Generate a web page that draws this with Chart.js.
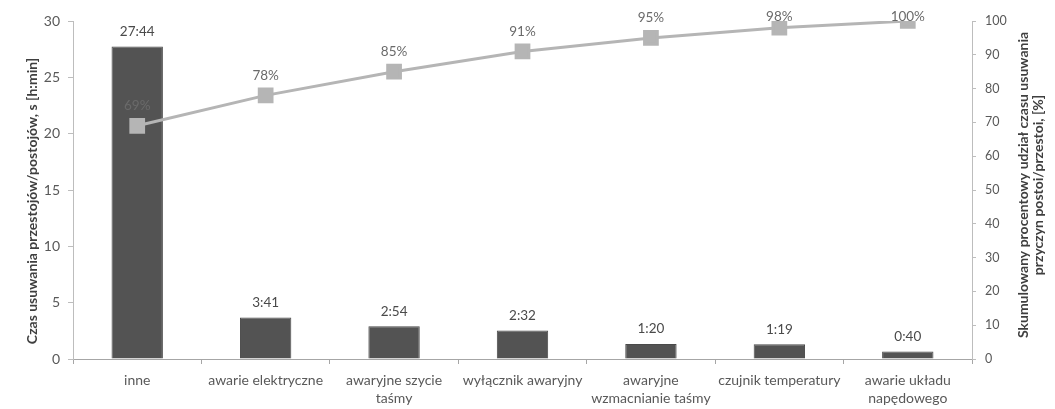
<!DOCTYPE html>
<html lang="pl">
<head>
<meta charset="utf-8">
<script src="https://cdn.jsdelivr.net/npm/chart.js@4.4.1/dist/chart.umd.min.js"></script>
<style>
  html, body { margin: 0; padding: 0; background: #ffffff; }
  #wrap { width: 1055px; height: 409px; position: relative; }
</style>
</head>
<body>
<div id="wrap"><canvas id="chart" width="1055" height="409"></canvas></div>
<script>
// Przyczyny przestojów – czas usuwania (h:min) i skumulowany udział procentowy
const categories = [
  'inne',
  'awarie elektryczne',
  ['awaryjne szycie', 'taśmy'],
  'wyłącznik awaryjny',
  ['awaryjne', 'wzmacnianie taśmy'],
  'czujnik temperatury',
  ['awarie układu', 'napędowego']
];
const durations = ['27:44', '3:41', '2:54', '2:32', '1:20', '1:19', '0:40'];
const cumulativePercent = [69, 78, 85, 91, 95, 98, 100];
const leftTicks = [0, 5, 10, 15, 20, 25, 30];
const rightTicks = [0, 10, 20, 30, 40, 50, 60, 70, 80, 90, 100];

// czas h:min zamieniony na godziny
const hours = durations.map(d => {
  const [h, m] = d.split(':').map(Number);
  return h + m / 60;
});

const FONT = 'Lato, "Open Sans", sans-serif';
const TEXT = '#595959';

const valueLabels = {
  id: 'valueLabels',
  afterDatasetsDraw(chart) {
    const ctx = chart.ctx;
    ctx.save();
    ctx.font = '13.5px ' + FONT;
    ctx.textAlign = 'center';
    ctx.textBaseline = 'middle';
    chart.data.datasets.forEach((ds, di) => {
      const meta = chart.getDatasetMeta(di);
      meta.data.forEach((el, i) => {
        if (ds.type === 'line') {
          const y = Math.max(el.y - 20, 17);
          ctx.fillStyle = '#6a6a6a';
          ctx.fillText(cumulativePercent[i] + '%', el.x, y);
        } else {
          ctx.fillStyle = '#4a4a4a';
          ctx.fillText(durations[i], el.x, el.y - 15);
        }
      });
    });
    ctx.restore();
  }
};

const axisTitles = {
  id: 'axisTitles',
  afterDraw(chart) {
    const ctx = chart.ctx;
    ctx.save();
    ctx.fillStyle = '#3f3f3f';
    ctx.textAlign = 'center';
    ctx.textBaseline = 'middle';
    ctx.font = 'bold 14px ' + FONT;
    ctx.translate(32, 201);
    ctx.rotate(-Math.PI / 2);
    ctx.fillText('Czas usuwania przestojów/postojów, s [h:min]', 0, 0);
    ctx.restore();

    ctx.save();
    ctx.fillStyle = '#3f3f3f';
    ctx.textAlign = 'center';
    ctx.textBaseline = 'middle';
    ctx.font = 'bold 14px ' + FONT;
    ctx.translate(1023, 185);
    ctx.rotate(-Math.PI / 2);
    ctx.fillText('Skumulowany procentowy udział czasu usuwania', 0, 0);
    ctx.fillText('przyczyn postoi/przestoi, [%]', 0, 15);
    ctx.restore();
  }
};

new Chart(document.getElementById('chart'), {
  data: {
    labels: categories,
    datasets: [
      {
        type: 'line',
        label: 'Skumulowany udział',
        data: cumulativePercent,
        yAxisID: 'y1',
        order: 0,
        borderColor: '#b5b5b5',
        borderWidth: 3,
        pointStyle: 'rect',
        pointRadius: 9,
        pointBackgroundColor: '#b5b5b5',
        pointBorderColor: '#b5b5b5',
        tension: 0
      },
      {
        type: 'bar',
        label: 'Czas usuwania',
        data: hours,
        yAxisID: 'y',
        order: 1,
        backgroundColor: '#535353',
        borderColor: '#4a4a4a',
        borderWidth: 1,
        categoryPercentage: 1.0,
        barPercentage: 0.4
      }
    ]
  },
  options: {
    responsive: false,
    animation: false,
    layout: { padding: { top: 21, left: 0, right: 0, bottom: 0 } },
    plugins: {
      legend: { display: false },
      tooltip: { enabled: false }
    },
    scales: {
      x: {
        offset: true,
        grid: { display: true, drawOnChartArea: false, offset: true, tickLength: 5, color: '#a6a6a6' },
        border: { color: '#a6a6a6', width: 1 },
        ticks: {
          color: TEXT, font: { family: FONT, size: 14, lineHeight: 1.3 },
          padding: 7, maxRotation: 0, minRotation: 0, autoSkip: false
        },
        afterFit(s) { s.height = 50; }
      },
      y: {
        position: 'left',
        min: 0, max: 30,
        afterBuildTicks(s) { s.ticks = leftTicks.map(v => ({ value: v })); },
        grid: { display: true, drawOnChartArea: false, tickLength: 5, color: '#bdbdbd' },
        border: { color: '#bdbdbd', width: 1 },
        ticks: { color: TEXT, font: { family: FONT, size: 14 }, padding: 8 },
        afterFit(s) { s.width = 73; }
      },
      y1: {
        position: 'right',
        min: 0, max: 100,
        afterBuildTicks(s) { s.ticks = rightTicks.map(v => ({ value: v })); },
        grid: { display: true, drawOnChartArea: false, tickLength: 4, color: '#bdbdbd' },
        border: { color: '#bdbdbd', width: 1 },
        ticks: { color: TEXT, font: { family: FONT, size: 12.5 }, padding: 9 },
        afterFit(s) { s.width = 83; }
      }
    }
  },
  plugins: [valueLabels, axisTitles]
});
</script>
</body>
</html>
